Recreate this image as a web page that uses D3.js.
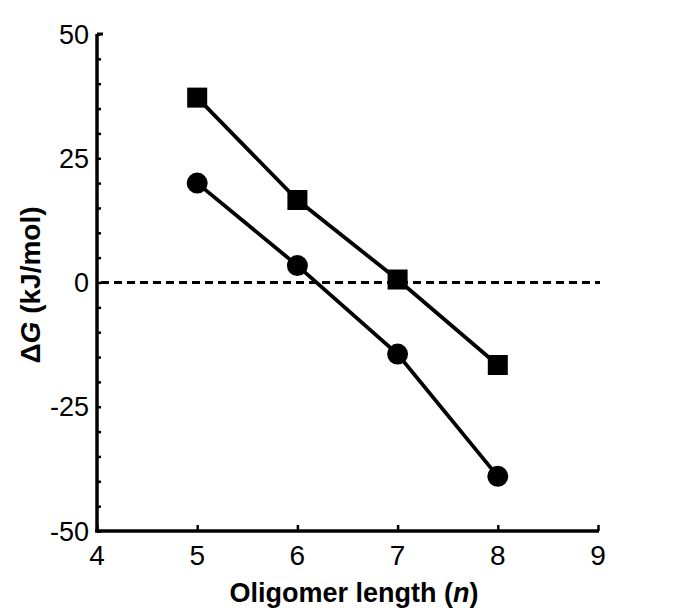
<!DOCTYPE html>
<html>
<head>
<meta charset="utf-8">
<script src="https://cdn.jsdelivr.net/npm/d3@7"></script>
<style>
  body { margin: 0; background: #fff; }
  svg { display: block; font-family: "Liberation Sans", Arial, sans-serif; }
</style>
</head>
<body>
<svg id="chart"></svg>
<script>
// oligomer length n
const lengths = [5, 6, 7, 8];
// ΔG values (kJ/mol)
const squareSeries = [37.2, 16.6, 0.6, -16.6];
const circleSeries = [20.0, 3.4, -14.4, -39.0];
const xTicks = [4, 5, 6, 7, 8, 9];
const yTicks = [-50, -25, 0, 25, 50];
const yMinorTicks = d3.range(-50, 51, 5);

const width = 700;
const height = 613;

const svg = d3.select('#chart')
  .attr('width', width)
  .attr('height', height);

const x = d3.scaleLinear().domain([4, 9]).range([97, 598]);
const y = d3.scaleLinear().domain([-50, 50]).range([531, 34]);

// zero reference line
svg.append('line')
  .attr('x1', x(4) + 4)
  .attr('x2', x(9) + 2)
  .attr('y1', y(0))
  .attr('y2', y(0))
  .style('stroke', '#000')
  .style('stroke-width', 3)
  .style('stroke-dasharray', '8,5');

// y axis: minor ticks pointing inward
const yAxis = svg.append('g')
  .attr('transform', `translate(${x(4)},0)`)
  .call(d3.axisRight(y).tickValues(yMinorTicks).tickSize(4).tickFormat(''));
yAxis.select('.domain').remove();
yAxis.selectAll('line').style('stroke', '#000').style('stroke-width', 2.5);

svg.append('line')
  .attr('x1', x(4)).attr('x2', x(4))
  .attr('y1', y(50)).attr('y2', y(-50) + 1)
  .style('stroke', '#000').style('stroke-width', 3.5);
svg.append('line')
  .attr('x1', x(4)).attr('x2', x(4) + 6)
  .attr('y1', y(50)).attr('y2', y(50))
  .style('stroke', '#000').style('stroke-width', 3);

svg.selectAll('.ylab')
  .data(yTicks)
  .enter()
  .append('text')
  .attr('class', 'ylab')
  .attr('x', x(4) - 8)
  .attr('y', d => y(d))
  .attr('dy', '0.36em')
  .attr('text-anchor', 'end')
  .style('font-size', '27px')
  .text(d => d);

// x axis: ticks pointing inward
const xAxis = svg.append('g')
  .attr('transform', `translate(0,${y(-50)})`)
  .call(d3.axisTop(x).tickValues(xTicks).tickSize(6).tickFormat(''));
xAxis.select('.domain').remove();
xAxis.selectAll('line').style('stroke', '#000').style('stroke-width', 2.5);

svg.append('line')
  .attr('x1', x(4) - 2).attr('x2', x(9) + 1)
  .attr('y1', y(-50)).attr('y2', y(-50))
  .style('stroke', '#000').style('stroke-width', 3.5);

svg.selectAll('.xlab')
  .data(xTicks)
  .enter()
  .append('text')
  .attr('class', 'xlab')
  .attr('x', d => x(d))
  .attr('y', y(-50) + 34)
  .attr('text-anchor', 'middle')
  .style('font-size', '28px')
  .text(d => d);

// axis titles
svg.append('text')
  .attr('x', 354)
  .attr('y', 602)
  .attr('text-anchor', 'middle')
  .style('font-size', '27px')
  .style('font-weight', 'bold')
  .html('Oligomer length (<tspan font-style="italic">n</tspan>)');

svg.append('text')
  .attr('transform', 'translate(40,285) rotate(-90)')
  .attr('text-anchor', 'middle')
  .style('font-size', '28px')
  .style('font-weight', 'bold')
  .html('ΔG (kJ/mol)'.replace('G', '<tspan font-style="italic">G</tspan>'));

// series lines
const line = d3.line()
  .x(d => x(d[0]))
  .y(d => y(d[1]));

[squareSeries, circleSeries].forEach(series => {
  svg.append('path')
    .attr('d', line(lengths.map((n, i) => [n, series[i]])))
    .style('fill', 'none')
    .style('stroke', '#000')
    .style('stroke-width', 3.8);
});

// markers
svg.selectAll('.sq')
  .data(lengths.map((n, i) => [n, squareSeries[i]]))
  .enter()
  .append('rect')
  .attr('class', 'sq')
  .attr('x', d => x(d[0]) - 10)
  .attr('y', d => y(d[1]) - 10)
  .attr('width', 20)
  .attr('height', 20)
  .style('fill', '#000');

svg.selectAll('.ci')
  .data(lengths.map((n, i) => [n, circleSeries[i]]))
  .enter()
  .append('circle')
  .attr('class', 'ci')
  .attr('cx', d => x(d[0]))
  .attr('cy', d => y(d[1]))
  .attr('r', 10.5)
  .style('fill', '#000');
</script>
</body>
</html>
